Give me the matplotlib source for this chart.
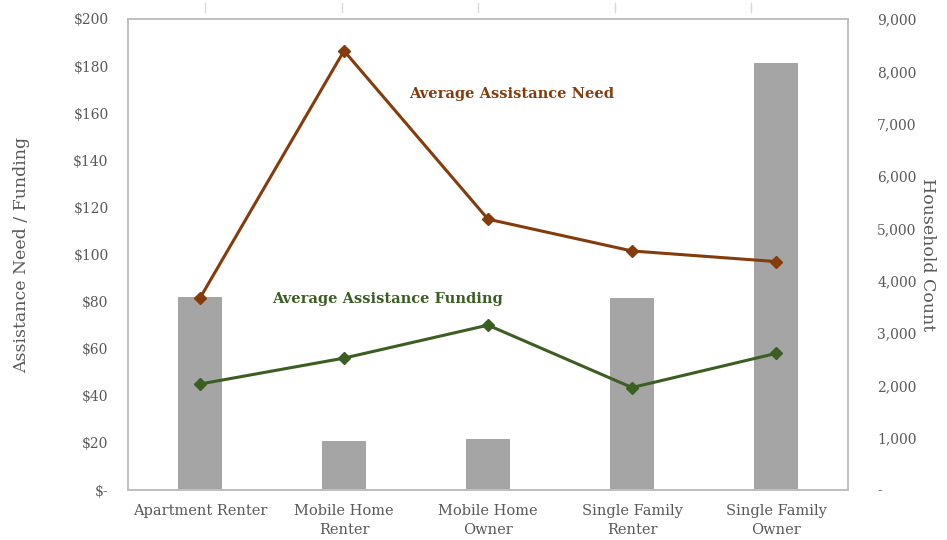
import numpy as np
import matplotlib.pyplot as plt
from matplotlib.ticker import FuncFormatter

# household types and values
categories = ["Apartment Renter", "Mobile Home\nRenter", "Mobile Home\nOwner",
              "Single Family\nRenter", "Single Family\nOwner"]
household_count = [3690, 940, 980, 3670, 8160]
avg_need = [81.5, 186.5, 115.0, 101.5, 97.0]
avg_funding = [45.0, 56.0, 70.0, 43.5, 58.0]

bar_color = "#A5A5A5"
need_color = "#843C0C"
fund_color = "#3B5E22"
text_color = "#595959"
frame_color = "#BFBFBF"

plt.rcParams['font.family'] = ['DejaVu Serif']

fig = plt.figure(figsize=(9.47, 5.4), dpi=100)
ax = fig.add_axes([128 / 947, 50 / 540, 720 / 947, 471 / 540])  # left axis: $ values
ax2 = ax.twinx()  # right axis: household count

x = np.arange(len(categories))

# bars go on the right axis, behind the lines
ax2.bar(x, household_count, width=0.31, color=bar_color, zorder=1)
ax2.set_ylim(0, 9000)
ax2.set_yticks(np.arange(0, 9001, 1000))
ax2.yaxis.set_major_formatter(FuncFormatter(lambda v, p: "-" if v == 0 else f"{int(v):,}"))

# lines on the left axis, drawn on top of bars
ax.set_zorder(ax2.get_zorder() + 1)
ax.patch.set_visible(False)
ax.plot(x, avg_need, color=need_color, linewidth=2.2, marker="D", markersize=6)
ax.plot(x, avg_funding, color=fund_color, linewidth=2.2, marker="D", markersize=6)
ax.set_ylim(0, 200)
ax.set_xlim(-0.5, len(categories) - 0.5)
ax.set_yticks(np.arange(0, 201, 20))
ax.yaxis.set_major_formatter(FuncFormatter(lambda v, p: "$-" if v == 0 else f"${int(v)}"))
ax.set_xticks(x)
ax.set_xticklabels(categories, fontsize=10.5, color=text_color, linespacing=1.5)

ax.set_ylabel("Assistance Need / Funding", fontsize=12.5, color=text_color, labelpad=31)
ax2.set_ylabel("Household Count", fontsize=12.5, color=text_color, rotation=270, labelpad=14)

ax.tick_params(axis="y", length=0, pad=14, labelsize=10, labelcolor=text_color)
ax.tick_params(axis="x", length=0, pad=10)
ax2.tick_params(axis="y", length=0, pad=21, labelsize=10, labelcolor=text_color)
for t in ax2.get_yticklabels():
    t.set_horizontalalignment("left")

for a in (ax, ax2):
    for s in a.spines.values():
        s.set_color(frame_color)
        s.set_linewidth(1.2)

# series labels placed inside the chart
ax.text(1.45, 168, "Average Assistance Need", color=need_color, fontsize=10.5,
        fontweight="bold", ha="left", va="center")
ax.text(0.5, 81, "Average Assistance Funding", color=fund_color, fontsize=10.5,
        fontweight="bold", ha="left", va="center")

# faint sheet column guides along the top edge
for i in range(5):
    xf = (205 + 136.5 * i) / 947
    fig.add_artist(plt.Line2D([xf, xf], [1 - 3 / 540, 1 - 12 / 540], color="#D9D9D9", linewidth=1))

fig.savefig("out.png", dpi=100)
